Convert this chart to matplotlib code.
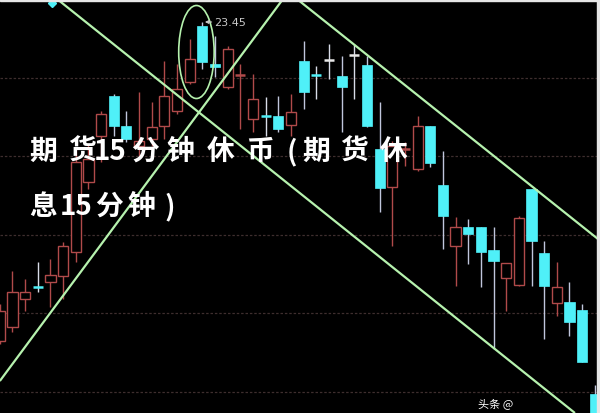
import matplotlib
matplotlib.use("Agg")
import matplotlib.pyplot as plt
from matplotlib.patches import Ellipse, Rectangle

plt.rcParams['font.family'] = ['Noto Sans CJK SC', 'DejaVu Sans']

# ---------------- data ----------------
opens = [20.26, 20.40, 20.68, 20.80, 20.85, 20.91, 21.15, 21.85, 22.31, 22.71,
         22.41, 22.21, 22.28, 22.41, 22.56, 22.85, 23.41, 23.03, 22.80, 22.92,
         22.48, 22.51, 22.51, 22.42, 23.06, 22.92, 23.07, 22.91, 23.12, 23.02,
         22.18, 21.80, 22.18, 21.98, 22.41, 21.82, 21.21, 21.40, 21.40, 21.17,
         20.89, 20.82, 21.78, 21.14, 20.64, 20.65, 20.57, 19.73]
closes = [20.56, 20.75, 20.75, 20.79, 20.92, 21.21, 22.05, 22.08, 22.53, 22.41,
          22.28, 22.26, 22.40, 22.71, 22.78, 23.08, 23.05, 23.00, 23.18, 22.93,
          22.68, 22.50, 22.38, 22.55, 22.75, 22.91, 23.07, 22.80, 23.12, 22.41,
          21.79, 22.21, 22.19, 22.41, 22.04, 21.51, 21.40, 21.33, 21.15, 21.06,
          21.04, 21.49, 21.26, 20.81, 20.80, 20.45, 20.05, 19.43]
highs = [20.63, 20.96, 20.88, 21.05, 21.08, 21.25, 22.18, 22.23, 22.56, 22.73,
         22.56, 22.75, 22.65, 23.06, 23.03, 23.28, 23.45, 23.31, 23.21, 23.03,
         22.93, 22.70, 22.71, 22.73, 23.26, 23.01, 23.23, 23.11, 23.23, 23.11,
         22.65, 22.26, 22.25, 22.51, 22.41, 22.16, 21.50, 21.48, 21.40, 21.40,
         21.04, 21.51, 21.78, 21.26, 21.05, 20.85, 20.63, 19.82]
lows = [20.23, 20.35, 20.56, 20.75, 20.60, 20.68, 21.05, 21.78, 22.05, 22.31,
        22.25, 22.11, 22.21, 22.28, 22.53, 22.83, 22.98, 22.90, 22.78, 22.38,
        22.35, 22.31, 22.35, 22.31, 22.58, 22.68, 22.88, 22.35, 22.68, 22.40,
        21.55, 21.21, 22.01, 21.96, 22.00, 21.18, 20.81, 21.03, 20.80, 20.18,
        20.56, 20.81, 20.81, 20.28, 20.51, 20.31, 20.05, 19.43]

grid_levels = [22.89, 22.105, 21.32, 20.535, 19.75]

# trend lines: (index, price) endpoints
line_a = [(4.52, 23.68), (45.43, 19.54)]
line_b = [(0.0, 19.86), (22.37, 23.68)]
line_c = [(23.47, 23.68), (47.25, 21.28)]

high_label = "23.45"
high_index = 16
high_price = 23.45

# title: 期货15分钟休币(期货休息15分钟), wrapped in two lines
title_line1 = ["期", "货", "15", "分", "钟", "休", "币", "(", "期", "货", "休"]
title_line2 = ["息", "15", "分", "钟", ")"]
title_line1_x = [43.5, 82, 110, 144.5, 180.5, 220.5, 260, 292, 316, 354, 394]
title_line2_x = [43.5, 76, 109, 141, 170]
watermark = "头条 @"

# ---------------- drawing ----------------
W, H = 600, 414
fig = plt.figure(figsize=(6, 4.14), dpi=100, facecolor='black')
ax = fig.add_axes([0, 0, 1, 1])
ax.set_facecolor('black')
ax.set_xlim(0.013, 47.41)
ax.set_ylim(19.54, 23.68)
ax.axis('off')

for g in grid_levels:
    ax.axhline(g, color='#3e2e2e', lw=0.9, ls=(0, (2, 1.5)), zorder=1)

RED = '#b04a4a'
CYAN = '#4ff0f8'
CYAN_WICK = '#c0c6dc'
bw = 0.8
for i, (o, c, h, l) in enumerate(zip(opens, closes, highs, lows)):
    diff = c - o
    if abs(diff) < 0.015:
        col = RED if diff > 0 else (CYAN if diff < 0 else '#e8e8e8')
        wcol = RED if diff > 0 else ('#d8dce8')
        ax.vlines(i, l, h, color=wcol, lw=1.0, zorder=2)
        ax.hlines(o, i - bw / 2, i + bw / 2, color=col, lw=1.8, zorder=3)
    elif diff > 0:
        ax.vlines(i, l, h, color=RED, lw=1.0, zorder=2)
        ax.bar(i, diff, bottom=o, width=bw, facecolor='black', edgecolor=RED,
               lw=1.0, zorder=3)
    else:
        ax.vlines(i, l, h, color=CYAN_WICK, lw=1.0, zorder=2)
        ax.bar(i, -diff, bottom=c, width=bw, facecolor=CYAN, edgecolor=CYAN,
               lw=0.5, zorder=3)

GREEN = '#b6f2ae'
for ln in (line_a, line_b, line_c):
    xs = [p[0] for p in ln]
    ys = [p[1] for p in ln]
    ax.plot(xs, ys, color=GREEN, lw=1.6, zorder=4, solid_capstyle='butt')

ax.add_patch(Ellipse((15.53, 23.15), 2.8, 0.93, fill=False, edgecolor=GREEN,
                     lw=1.2, zorder=4))

ax.annotate(high_label, xy=(high_index + 0.2, high_price),
            xytext=(high_index + 0.95, high_price), color='#c8c8c8',
            fontsize=8, va='center', ha='left', family='DejaVu Sans',
            arrowprops=dict(arrowstyle='-|>', color='#c8c8c8', lw=0.8,
                            mutation_scale=5, shrinkA=0, shrinkB=0), zorder=5)

ax.plot([4.12], [23.64], marker='D', color=CYAN, markersize=4, zorder=5)

# title tokens
for tok, px in zip(title_line1, title_line1_x):
    ax.text(px / W, 1 - 152 / H, tok, transform=ax.transAxes, color='white',
            fontsize=20, fontweight='bold', ha='center', va='center', zorder=6)
for tok, px in zip(title_line2, title_line2_x):
    ax.text(px / W, 1 - 207 / H, tok, transform=ax.transAxes, color='white',
            fontsize=20, fontweight='bold', ha='center', va='center', zorder=6)

ax.text(478 / W, 1 - 404 / H, watermark, transform=ax.transAxes, color='white',
        fontsize=8, ha='left', va='center', zorder=6)

# border strips
fig.add_artist(Rectangle((597 / W, 0), 3 / W, 1, transform=fig.transFigure,
                         color='#e6e6e6', zorder=10))
fig.add_artist(Rectangle((0, 1 - 1.5 / H), 1, 1.5 / H, transform=fig.transFigure,
                         color='#e6e6e6', zorder=10))

fig.savefig('out.png', dpi=100, facecolor='black')
